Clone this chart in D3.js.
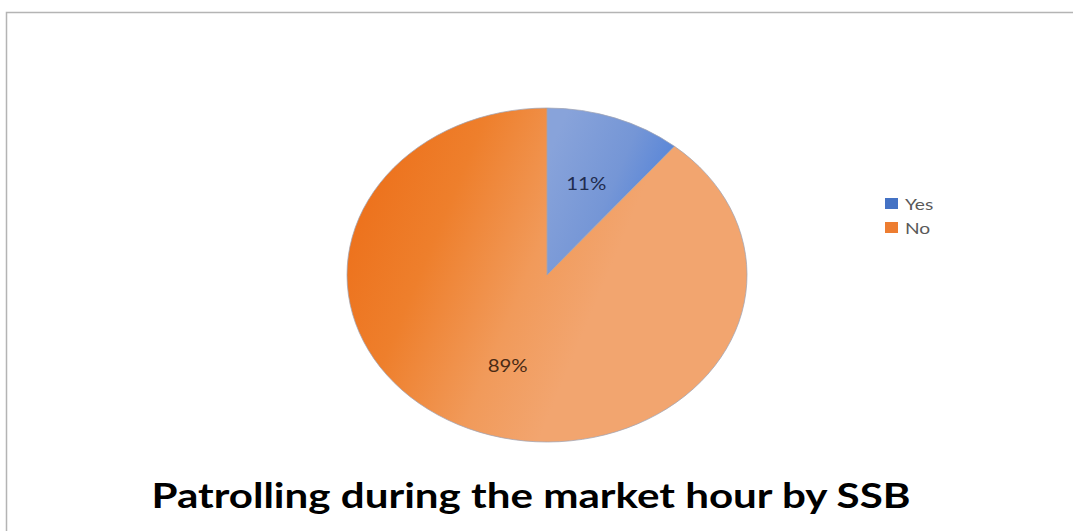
<!DOCTYPE html>
<html>
<head>
<meta charset="utf-8">
<script src="https://cdn.jsdelivr.net/npm/d3@7/dist/d3.min.js"></script>
<style>
  html, body { margin: 0; padding: 0; background: #fff; }
  svg { display: block; }
</style>
</head>
<body>
<svg id="chart" width="1073" height="531"></svg>
<script>
// Survey answers and their shares (percent)
const categories = ["Yes", "No"];
const shares = [11, 89];
const sliceColors = ["#4472c4", "#ed7d31"];
const chartTitle = "Patrolling during the market hour by SSB";

const svg = d3.select("#chart");
const W = 1073, H = 531;
const stretch = 1.2;            // horizontal stretch applied to the whole drawing
const font = "Lato, 'Open Sans', sans-serif";

// chart area frame
svg.append("path")
  .attr("d", `M6.5,${H} V12.5 H${W}`)
  .attr("fill", "none")
  .attr("stroke", "#b4b4b4")
  .attr("stroke-width", 1.5);

// Pie geometry: drawn as a circle, then stretched horizontally into an ellipse
const cx = 547, cy = 275, rx = 200, ry = 167;
const k = ry / rx; // page x -> local x inside the pie group

const defs = svg.append("defs");
const gYes = defs.append("linearGradient").attr("id", "gradYes")
  .attr("gradientUnits", "userSpaceOnUse")
  .attr("x1", 0).attr("y1", -ry * 0.7).attr("x2", 125 * k).attr("y2", -80);
gYes.append("stop").attr("offset", "0").attr("stop-color", "#88a3da");
gYes.append("stop").attr("offset", "0.55").attr("stop-color", "#7596d6");
gYes.append("stop").attr("offset", "1").attr("stop-color", "#5282d9");

const gNo = defs.append("linearGradient").attr("id", "gradNo")
  .attr("gradientUnits", "userSpaceOnUse")
  .attr("x1", -rx * k).attr("y1", -20).attr("x2", 40 * k).attr("y2", 50);
gNo.append("stop").attr("offset", "0").attr("stop-color", "#ed731e");
gNo.append("stop").attr("offset", "0.3").attr("stop-color", "#ee7f2c");
gNo.append("stop").attr("offset", "0.7").attr("stop-color", "#f19a5a");
gNo.append("stop").attr("offset", "1").attr("stop-color", "#f2a56f");

const fills = ["url(#gradYes)", "url(#gradNo)"];

const pie = d3.pie().sort(null).value(d => d)(shares);
const arc = d3.arc().innerRadius(0).outerRadius(ry);

const pieG = svg.append("g")
  .attr("transform", `translate(${cx},${cy}) scale(${rx / ry},1)`);

pieG.selectAll("path.slice")
  .data(pie)
  .join("path")
  .attr("class", "slice")
  .attr("d", arc)
  .attr("fill", (d, i) => fills[i])
  .attr("stroke", "#a0a4b4")
  .attr("stroke-opacity", 0.75)
  .attr("stroke-width", 1)
  .attr("vector-effect", "non-scaling-stroke");

// Percentage labels placed at the slice centroids of a reduced arc
const labelArc = d3.arc().innerRadius(ry * 0.58).outerRadius(ry * 0.58);
const labelColors = ["#1f2c4f", "#4a2a14"];
svg.selectAll("text.pct")
  .data(pie)
  .join("text")
  .attr("class", "pct")
  .attr("transform", d => {
    const [lx, ly] = labelArc.centroid(d);
    return `translate(${cx + lx * rx / ry},${cy + ly + 6}) scale(${stretch},1)`;
  })
  .attr("text-anchor", "middle")
  .attr("font-family", font)
  .attr("font-size", 17)
  .attr("fill", (d, i) => labelColors[i])
  .text(d => d.data + "%");

// Legend
const legend = svg.append("g").attr("transform", "translate(885,198)");
const item = legend.selectAll("g")
  .data(categories)
  .join("g")
  .attr("transform", (d, i) => `translate(0,${i * 24})`);
item.append("rect")
  .attr("width", 13).attr("height", 11)
  .attr("fill", (d, i) => sliceColors[i]);
item.append("text")
  .attr("transform", `translate(20,12) scale(${stretch},1)`)
  .attr("font-family", font)
  .attr("font-size", 16)
  .attr("fill", "#595959")
  .text(d => d);

// Title
svg.append("text")
  .attr("x", 531).attr("y", 508)
  .attr("text-anchor", "middle")
  .attr("font-family", font)
  .attr("font-weight", "bold")
  .attr("font-size", 34)
  .attr("fill", "#000")
  .attr("textLength", 759)
  .attr("lengthAdjust", "spacingAndGlyphs")
  .text(chartTitle);
</script>
</body>
</html>
